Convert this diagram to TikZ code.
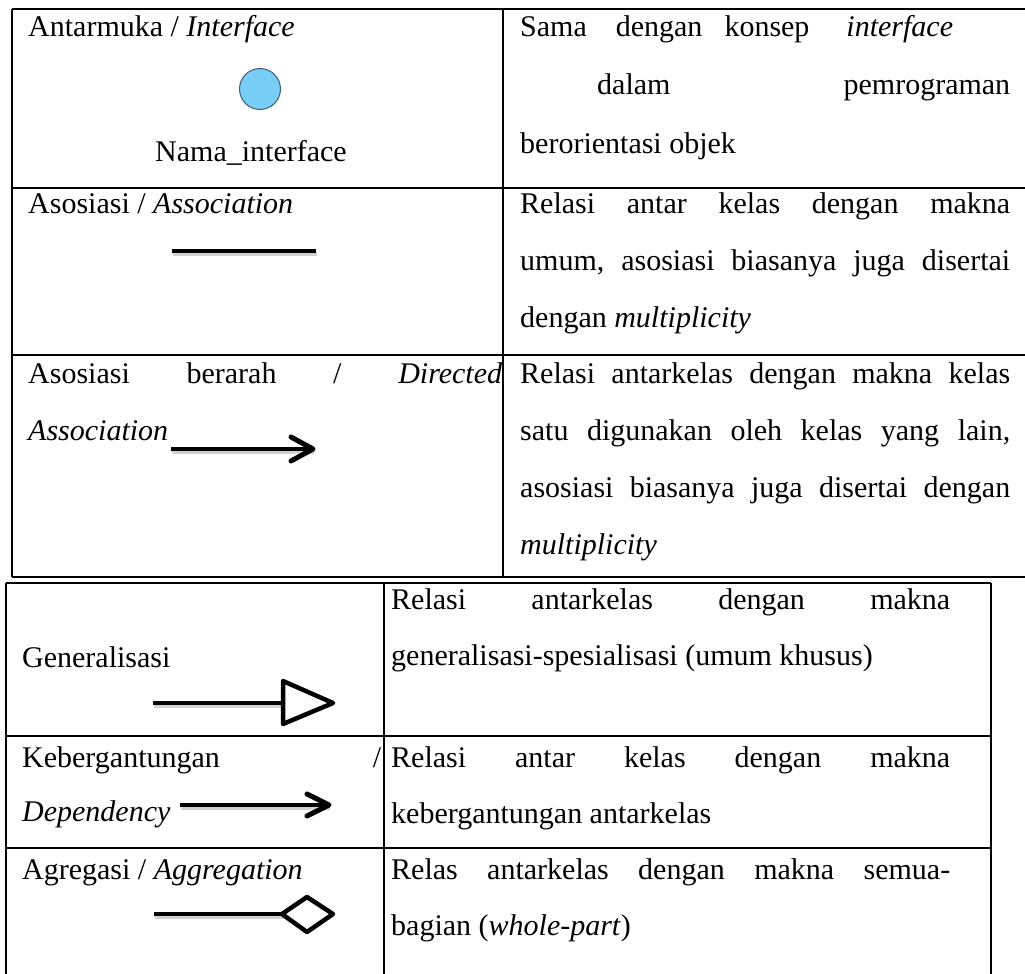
\documentclass[tikz,border=0pt]{standalone}
\usepackage{fontspec}
\setmainfont{Liberation Serif}
\definecolor{ifaceblue}{HTML}{78CEF4}
\definecolor{ifaceedge}{HTML}{3E5C74}
\begin{document}
\begin{tikzpicture}[x=1pt,y=-1pt,
  txt/.style={anchor=base west, inner sep=0pt, font=\fontsize{30}{36}\selectfont},
  ctxt/.style={anchor=base, inner sep=0pt, font=\fontsize{30}{36}\selectfont},
  grid/.style={line width=2pt},
  symline/.style={line width=4.5pt},
  shad/.style={line width=4.5pt, draw=black!40, opacity=0.45},
  head/.style={line width=5pt, line cap=round, line join=round},
  symshape/.style={line width=4.5pt, line join=round, fill=white}]
\useasboundingbox (0,0) rectangle (1025,974);
\clip (0,0) rectangle (1025,974);
\fill[white] (0,0) rectangle (1025,974);

% ---------------- top table ----------------
\draw[grid] (12,9) -- (1040,9);
\draw[grid] (12,188) -- (1040,188);
\draw[grid] (12,355) -- (1040,355);
\draw[grid] (12,577) -- (1040,577);
\draw[grid] (12,9) -- (12,577);
\draw[grid] (503,9) -- (503,577);

% row 1
\node[txt] (l1) at (28,37) {Antarmuka / \textit{Interface}};
\node[circle, minimum size=41pt, inner sep=0pt, fill=ifaceblue, draw=ifaceedge, line width=1pt] (iface) at (260,89) {};
\node[ctxt] (l1b) at (251,161) {Nama\_interface};
\node[txt] (r1a) at (520,37) {Sama\hspace{29pt}dengan\hspace{22pt}konsep\hspace{37pt}\textit{interface}};
\node[txt] (r1b) at (597,95) {\hbox to 413pt{dalam\hfill pemrograman}};
\node[txt] (r1c) at (520,153) {berorientasi objek};

% row 2
\node[txt] (l2) at (28,213) {Asosiasi / \textit{Association}};
\coordinate (a1) at (172,251);
\coordinate (a2) at (316,251);
\draw[shad] ([shift={(1,3)}]a1) -- ([shift={(1,3)}]a2);
\draw[symline] (a1) -- (a2);
\node[txt] (r2a) at (520,213) {\hbox to 490pt{Relasi\hfill antar\hfill kelas\hfill dengan\hfill makna}};
\node[txt] (r2b) at (520,270) {\hbox to 490pt{umum,\hfill asosiasi\hfill biasanya\hfill juga\hfill disertai}};
\node[txt] (r2c) at (520,327) {dengan \textit{multiplicity}};

% row 3
\node[txt] (l3a) at (28,383) {\hbox to 474pt{Asosiasi\hfill berarah\hfill /\hfill \textit{Directed}}};
\node[txt] (l3b) at (28,440) {\textit{Association}};
\coordinate (d1) at (171,449);
\coordinate (d2) at (313,449);
\draw[shad] ([shift={(1,3)}]d1) -- ([shift={(1,3)}]d2);
\draw[symline] (d1) -- (d2);
\draw[head] (291,437) -- (d2) -- (291,461);
\node[txt] (r3a) at (520,383) {\hbox to 490pt{Relasi\hfill antarkelas\hfill dengan\hfill makna\hfill kelas}};
\node[txt] (r3b) at (520,440) {\hbox to 490pt{satu\hfill digunakan\hfill oleh\hfill kelas\hfill yang\hfill lain,}};
\node[txt] (r3c) at (520,497) {\hbox to 490pt{asosiasi\hfill biasanya\hfill juga\hfill disertai\hfill dengan}};
\node[txt] (r3d) at (520,554) {\textit{multiplicity}};

% ---------------- bottom table ----------------
\draw[grid] (6,583) -- (991,583);
\draw[grid] (6,736) -- (991,736);
\draw[grid] (6,848) -- (991,848);
\draw[grid] (6,583) -- (6,990);
\draw[grid] (384,583) -- (384,990);
\draw[grid] (991,583) -- (991,990);

% generalisasi
\node[txt] (g1) at (22,667) {Generalisasi};
\coordinate (g2) at (153,703);
\coordinate (g3) at (283,703);
\draw[shad] ([shift={(1,3)}]g2) -- ([shift={(1,3)}]g3);
\draw[symline] (g2) -- (g3);
\draw[symshape] (283,681) -- (333,703) -- (283,724) -- cycle;
\node[txt] (gr1) at (391,609) {\hbox to 559pt{Relasi\hfill antarkelas\hfill dengan\hfill makna}};
\node[txt] (gr2) at (391,665) {generalisasi-spesialisasi (umum khusus)};

% kebergantungan
\node[txt] (k1) at (22,767) {\hbox to 359pt{Kebergantungan\hfill /}};
\node[txt] (k2) at (22,821) {\textit{Dependency}};
\coordinate (k3) at (180,805);
\coordinate (k4) at (329,805);
\draw[shad] ([shift={(1,3)}]k3) -- ([shift={(1,3)}]k4);
\draw[symline] (k3) -- (k4);
\draw[head] (307,794) -- (k4) -- (307,816);
\node[txt] (kr1) at (391,767) {\hbox to 559pt{Relasi\hfill antar\hfill kelas\hfill dengan\hfill makna}};
\node[txt] (kr2) at (391,823) {kebergantungan antarkelas};

% agregasi
\node[txt] (ag1) at (22,879) {Agregasi / \textit{Aggregation}};
\coordinate (ag2) at (154,914);
\coordinate (ag3) at (282,914);
\draw[shad] ([shift={(1,3)}]ag2) -- ([shift={(1,3)}]ag3);
\draw[symline] (ag2) -- (ag3);
\draw[symshape] (282,914) -- (307,897) -- (333,914) -- (307,932) -- cycle;
\node[txt] (agr1) at (391,879) {\hbox to 559pt{Relas\hfill antarkelas\hfill dengan\hfill makna\hfill semua-}};
\node[txt] (agr2) at (391,935) {bagian (\textit{whole-part})};
\end{tikzpicture}
\end{document}
